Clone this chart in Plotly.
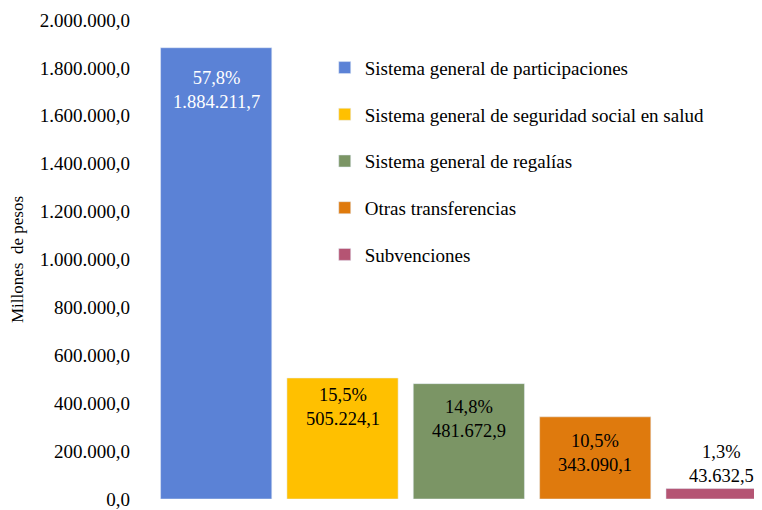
import plotly.graph_objects as go

categories = [
    "Sistema general de participaciones",
    "Sistema general de seguridad social en salud",
    "Sistema general de regalías",
    "Otras transferencias",
    "Subvenciones",
]
values = [1884211.7, 505224.1, 481672.9, 343090.1, 43632.5]
shares = ["57,8%", "15,5%", "14,8%", "10,5%", "1,3%"]
value_labels = ["1.884.211,7", "505.224,1", "481.672,9", "343.090,1", "43.632,5"]
y_ticks = list(range(0, 2000001, 200000))

colors = ["#5B82D6", "#FFC000", "#7B9565", "#DF7A0D", "#B55473"]
label_colors = ["white", "black", "black", "black", "black"]
# pixel offset of label block centre below bar top (negative = above)
label_shift = [42, 29, 35, 36, -25]

FONT = "Liberation Serif"

fig = go.Figure()
for i, name in enumerate(categories):
    fig.add_trace(
        go.Bar(
            x=[i],
            y=[values[i]],
            name=name,
            marker_color=colors[i],
            legendgroup=str(i),
            hoverinfo="skip",
        )
    )
    fig.add_annotation(
        x=i,
        y=values[i],
        text=f"{shares[i]}<br>{value_labels[i]}",
        showarrow=False,
        yanchor="middle",
        yshift=-label_shift[i],
        font=dict(family=FONT, size=18.5, color=label_colors[i]),
    )

# page body adds an 8px offset, so the figure is 8px smaller than the window
fig.update_layout(
    width=754,
    height=502,
    margin=dict(l=145, r=0, t=12, b=8),
    separators=",.",
    plot_bgcolor="white",
    paper_bgcolor="white",
    font=dict(family=FONT, size=19, color="black"),
    bargap=0.12,
    showlegend=True,
    legend=dict(
        x=0.282,
        y=0.94,
        xanchor="left",
        yanchor="top",
        tracegroupgap=19,
        font=dict(family=FONT, size=19, color="black"),
        bgcolor="rgba(0,0,0,0)",
        itemwidth=30,
    ),
)
fig.update_xaxes(
    range=[-0.5, 4.32],
    showticklabels=False,
    showgrid=False,
    zeroline=False,
    showline=False,
)
fig.update_yaxes(
    range=[0, 2000000],
    tickvals=y_ticks,
    tickformat=",.1f",
    showgrid=False,
    zeroline=False,
    showline=False,
    ticklabelstandoff=22,
    ticklabeloverflow="allow",
    tickfont=dict(family=FONT, size=19, color="black"),
    title=dict(text="Millones  de pesos", font=dict(family=FONT, size=17), standoff=12),
)

fig.write_html("out.html")
